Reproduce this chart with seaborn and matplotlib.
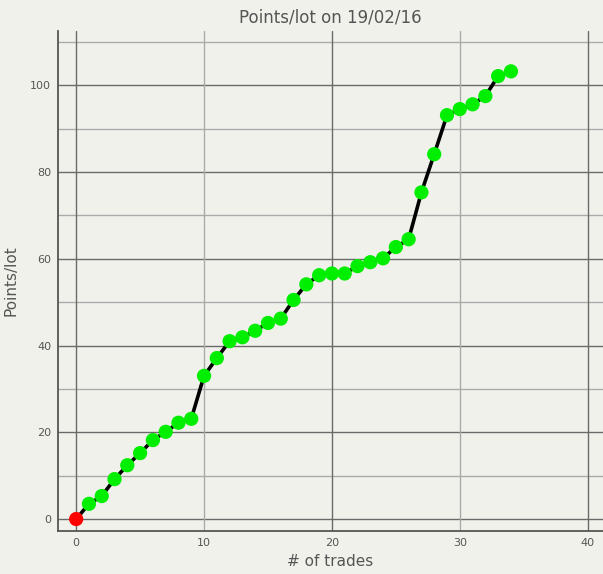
import numpy as np
import pandas as pd
import matplotlib
matplotlib.use("Agg")
import matplotlib.pyplot as plt
from matplotlib.ticker import MultipleLocator
import seaborn as sns

# points/lot after each trade
trades = list(range(0, 35))
points = [0.0, 3.5, 5.3, 9.2, 12.4, 15.2, 18.2, 20.1, 22.2, 23.1,
          33.0, 37.1, 41.0, 41.9, 43.4, 45.2, 46.2, 50.5, 54.1, 56.2,
          56.6, 56.6, 58.3, 59.2, 60.1, 62.7, 64.5, 75.3, 84.1, 93.1,
          94.5, 95.6, 97.5, 102.1, 103.2]

df = pd.DataFrame({"trade": trades, "points": points})

bg = "#f1f1ec"
txt = "#555555"

sns.set_style("white")
plt.rcParams["font.family"] = ["DejaVu Sans"]

fig = plt.figure(figsize=(6.03, 5.74), dpi=100, facecolor=bg)
ax = fig.add_axes([0.0962, 0.0749, 0.9038, 0.8711])
ax.set_facecolor(bg)

sns.lineplot(data=df, x="trade", y="points", color="black", linewidth=2.6,
             ax=ax, zorder=3)
sns.scatterplot(data=df.iloc[1:], x="trade", y="points", color="#00ee00",
                s=105, edgecolor="none", ax=ax, zorder=4)
sns.scatterplot(data=df.iloc[:1], x="trade", y="points", color="#ff0000",
                s=105, edgecolor="none", ax=ax, zorder=5)

ax.set_xlim(-1.42, 41.2)
ax.set_ylim(-2.76, 112.5)

# y grid: darker every 20, lighter in between
ax.yaxis.set_major_locator(MultipleLocator(20))
ax.yaxis.set_minor_locator(MultipleLocator(10))
ax.grid(which="major", axis="y", color="#6a6a6a", linewidth=1.0)
ax.grid(which="minor", axis="y", color="#aaaaaa", linewidth=1.0)
ax.set_axisbelow(True)

# x grid: labels every 10, darker lines at 0/20/40
ax.set_xticks([0, 10, 20, 30, 40])
for v in [0, 20, 40]:
    ax.axvline(v, color="#6a6a6a", linewidth=1.0, zorder=1)
for v in [10, 30]:
    ax.axvline(v, color="#aaaaaa", linewidth=1.0, zorder=1)

ax.tick_params(which="both", direction="in", length=3, color="#555555",
               labelsize=8, labelcolor=txt, pad=5)

for side in ["top", "right"]:
    ax.spines[side].set_visible(False)
for side in ["left", "bottom"]:
    ax.spines[side].set_color("#555555")
    ax.spines[side].set_linewidth(1.3)

ax.set_xlabel("# of trades", fontsize=11, color=txt, labelpad=4)
ax.set_ylabel("Points/lot", fontsize=11, color=txt, labelpad=8)
ax.set_title("Points/lot on 19/02/16", fontsize=12, color=txt, pad=6)

fig.savefig("out.png", dpi=100, facecolor=bg)
